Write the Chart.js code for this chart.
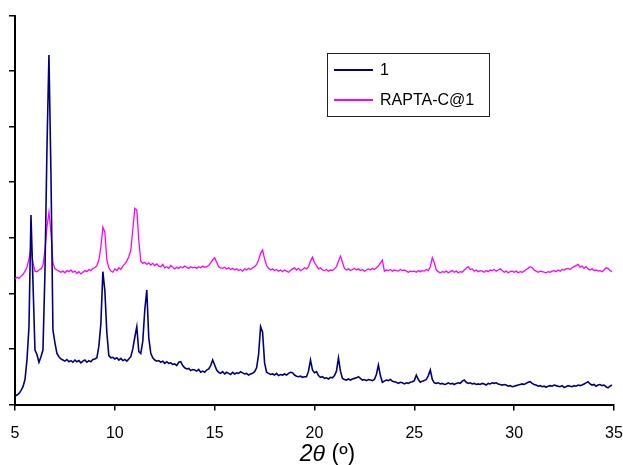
<!DOCTYPE html>
<html>
<head>
<meta charset="utf-8">
<script src="https://cdn.jsdelivr.net/npm/chart.js@4.4.1/dist/chart.umd.min.js"></script>
<style>
html,body{margin:0;padding:0;background:#ffffff;}
#wrap{width:623px;height:465px;position:relative;}
</style>
</head>
<body>
<div id="wrap"><canvas id="c" width="623" height="465"></canvas></div>
<script>
// ---- data (2θ grid: start 5.0°, step 0.1°) ----
const seriesNames = ['1', 'RAPTA-C@1'];
const seriesColors = ['#000080', '#FF00FF'];
const thetaStart = 5.0;
const thetaStep = 0.1;
const xTickValues = [5, 10, 15, 20, 25, 30, 35];
const xTitle = '2θ (º)';

// series "1"
const intensity1 = [
0.15,0.17,0.20,0.25,0.32,0.45,0.80,1.40,3.41,2.20,
0.98,0.90,0.76,0.86,0.98,2.37,4.60,6.29,4.17,1.34,
1.11,0.92,0.86,0.82,0.80,0.78,0.81,0.77,0.79,0.76,
0.80,0.77,0.79,0.75,0.78,0.80,0.76,0.79,0.77,0.81,
0.82,0.84,1.05,1.45,2.39,2.05,1.29,0.88,0.84,0.85,
0.82,0.84,0.80,0.83,0.79,0.81,0.78,0.82,0.86,1.00,
1.21,1.40,0.95,0.92,1.14,1.70,2.06,1.20,0.92,0.84,
0.80,0.78,0.79,0.76,0.78,0.74,0.77,0.74,0.75,0.72,
0.73,0.70,0.76,0.77,0.70,0.66,0.64,0.65,0.61,0.63,
0.62,0.60,0.63,0.58,0.60,0.58,0.62,0.64,0.70,0.80,
0.71,0.62,0.58,0.56,0.59,0.55,0.58,0.56,0.54,0.58,
0.55,0.57,0.56,0.59,0.57,0.55,0.56,0.53,0.55,0.56,
0.59,0.66,0.90,1.40,1.30,0.75,0.58,0.56,0.54,0.55,
0.53,0.56,0.52,0.54,0.53,0.55,0.53,0.56,0.58,0.57,
0.53,0.51,0.50,0.51,0.49,0.50,0.50,0.60,0.80,0.62,
0.57,0.59,0.52,0.49,0.50,0.47,0.48,0.46,0.49,0.48,
0.52,0.60,0.84,0.60,0.47,0.45,0.44,0.46,0.44,0.46,
0.47,0.48,0.50,0.47,0.44,0.45,0.43,0.45,0.44,0.43,
0.45,0.54,0.71,0.52,0.40,0.42,0.44,0.43,0.45,0.42,
0.41,0.40,0.38,0.40,0.39,0.37,0.39,0.38,0.40,0.41,
0.43,0.53,0.45,0.40,0.42,0.43,0.45,0.52,0.62,0.45,
0.39,0.38,0.39,0.37,0.38,0.36,0.37,0.39,0.37,0.38,
0.36,0.38,0.39,0.38,0.42,0.44,0.40,0.38,0.39,0.37,
0.38,0.36,0.37,0.36,0.38,0.37,0.35,0.38,0.37,0.39,
0.38,0.39,0.37,0.36,0.35,0.36,0.35,0.33,0.34,0.32,
0.33,0.34,0.35,0.36,0.37,0.36,0.38,0.40,0.41,0.38,
0.36,0.35,0.33,0.34,0.32,0.33,0.31,0.33,0.34,0.33,
0.35,0.34,0.33,0.32,0.34,0.31,0.32,0.34,0.33,0.32,
0.34,0.33,0.35,0.34,0.35,0.37,0.39,0.41,0.37,0.35,
0.36,0.33,0.35,0.36,0.34,0.35,0.32,0.30,0.33,0.35
];

// series "RAPTA-C@1"
const intensityRapta = [
2.26,2.29,2.27,2.31,2.34,2.40,2.47,2.62,2.82,2.55,
2.40,2.39,2.42,2.44,2.50,2.78,3.19,3.46,3.10,2.55,
2.44,2.42,2.40,2.38,2.40,2.37,2.41,2.39,2.42,2.38,
2.40,2.36,2.39,2.35,2.38,2.41,2.39,2.43,2.41,2.45,
2.46,2.50,2.60,2.83,3.19,3.10,2.60,2.46,2.40,2.38,
2.44,2.41,2.46,2.43,2.49,2.53,2.58,2.66,2.78,3.15,
3.53,3.50,2.95,2.58,2.54,2.56,2.52,2.55,2.51,2.54,
2.50,2.53,2.49,2.48,2.52,2.46,2.48,2.45,2.50,2.47,
2.44,2.47,2.45,2.48,2.46,2.49,2.47,2.45,2.48,2.46,
2.47,2.45,2.48,2.46,2.49,2.47,2.48,2.50,2.55,2.60,
2.64,2.56,2.48,2.46,2.45,2.47,2.44,2.46,2.43,2.45,
2.42,2.44,2.41,2.43,2.40,2.44,2.42,2.45,2.43,2.46,
2.48,2.52,2.60,2.72,2.78,2.62,2.50,2.45,2.42,2.44,
2.41,2.43,2.40,2.42,2.39,2.42,2.40,2.38,2.41,2.44,
2.46,2.42,2.45,2.41,2.43,2.46,2.44,2.48,2.58,2.65,
2.55,2.50,2.44,2.46,2.42,2.41,2.43,2.40,2.42,2.41,
2.44,2.48,2.58,2.67,2.56,2.45,2.42,2.44,2.41,2.43,
2.45,2.42,2.44,2.41,2.43,2.40,2.42,2.44,2.42,2.45,
2.43,2.46,2.49,2.55,2.60,2.40,2.42,2.41,2.43,2.40,
2.42,2.41,2.40,2.43,2.41,2.42,2.40,2.38,2.40,2.39,
2.40,2.38,2.41,2.39,2.41,2.40,2.43,2.41,2.48,2.64,
2.55,2.42,2.39,2.37,2.39,2.38,2.40,2.37,2.39,2.41,
2.38,2.40,2.37,2.39,2.38,2.42,2.45,2.48,2.43,2.44,
2.40,2.42,2.39,2.41,2.40,2.38,2.41,2.39,2.42,2.41,
2.43,2.40,2.42,2.44,2.41,2.38,2.40,2.37,2.39,2.40,
2.38,2.40,2.37,2.39,2.38,2.40,2.43,2.45,2.48,2.46,
2.42,2.40,2.38,2.40,2.39,2.38,2.37,2.39,2.38,2.40,
2.41,2.39,2.42,2.40,2.43,2.42,2.44,2.45,2.43,2.46,
2.48,2.50,2.52,2.47,2.49,2.45,2.48,2.44,2.42,2.44,
2.41,2.42,2.40,2.41,2.39,2.42,2.46,2.45,2.41,2.39
];

function toPoints(values) {
  return values.map((v, i) => ({ x: Math.round((thetaStart + i * thetaStep) * 10) / 10, y: v }));
}

const FONT = '"Liberation Sans", Arial, sans-serif';

const boxLegend = {
  id: 'boxLegend',
  afterDraw(chart) {
    const ctx = chart.ctx;
    ctx.save();
    const x0 = 327.5, y0 = 53.5, w = 162, h = 63;
    ctx.fillStyle = '#ffffff';
    ctx.fillRect(x0, y0, w, h);
    ctx.strokeStyle = '#222222';
    ctx.lineWidth = 1;
    ctx.strokeRect(x0, y0, w, h);
    chart.data.datasets.forEach((ds, i) => {
      const y = 70 + i * 30;
      ctx.strokeStyle = ds.borderColor;
      ctx.lineWidth = 2;
      ctx.beginPath();
      ctx.moveTo(334, y);
      ctx.lineTo(373, y);
      ctx.stroke();
      ctx.fillStyle = '#000000';
      ctx.font = '16px ' + FONT;
      ctx.textBaseline = 'middle';
      ctx.textAlign = 'left';
      ctx.fillText(ds.label, 380, y + 1);
    });
    ctx.restore();
  }
};

const axisTitle = {
  id: 'axisTitle',
  afterDraw(chart) {
    const ctx = chart.ctx;
    const area = chart.chartArea;
    ctx.save();
    ctx.fillStyle = '#000000';
    ctx.textBaseline = 'alphabetic';
    ctx.textAlign = 'left';
    const italicPart = xTitle.slice(0, 2);
    const restPart = xTitle.slice(2);
    ctx.font = 'italic 23px ' + FONT;
    const w1 = ctx.measureText(italicPart).width;
    ctx.font = '23px ' + FONT;
    const w2 = ctx.measureText(restPart).width;
    const cx = (area.left + area.right) / 2 + 13;
    let x = cx - (w1 + w2) / 2;
    const yb = 461;
    ctx.font = 'italic 23px ' + FONT;
    ctx.fillText(italicPart, x, yb);
    ctx.font = '23px ' + FONT;
    ctx.fillText(restPart, x + w1, yb);
    ctx.restore();
  }
};

new Chart(document.getElementById('c'), {
  type: 'line',
  data: {
    datasets: [
      { label: seriesNames[0], data: toPoints(intensity1), borderColor: seriesColors[0], borderWidth: 1.6, pointRadius: 0, tension: 0, fill: false },
      { label: seriesNames[1], data: toPoints(intensityRapta), borderColor: seriesColors[1], borderWidth: 1.3, pointRadius: 0, tension: 0, fill: false }
    ]
  },
  options: {
    responsive: false,
    animation: false,
    devicePixelRatio: 1,
    layout: { padding: { left: 0, right: 9, top: 15.5, bottom: 0 } },
    plugins: { legend: { display: false }, tooltip: { enabled: false } },
    scales: {
      x: {
        type: 'linear',
        min: 5, max: 35,
        afterBuildTicks(scale) { scale.ticks = xTickValues.map(v => ({ value: v })); },
        afterFit(scale) { scale.height = 60.5; scale.paddingLeft = 0; scale.paddingRight = 0; },
        grid: { drawOnChartArea: false, drawTicks: true, tickLength: 6, color: '#000000', lineWidth: 1.5 },
        border: { display: true, color: '#000000', width: 2 },
        ticks: { color: '#000000', font: { family: FONT, size: 16 }, padding: 13, maxRotation: 0, autoSkip: false },
        title: { display: false }
      },
      y: {
        min: 0, max: 7,
        ticks: { display: false, stepSize: 1 },
        afterFit(scale) { scale.width = 15; scale.paddingTop = 0; scale.paddingBottom = 0; },
        grid: { drawOnChartArea: false, drawTicks: true, tickLength: 6, color: '#000000', lineWidth: 1.5 },
        border: { display: true, color: '#000000', width: 2 }
      }
    }
  },
  plugins: [boxLegend, axisTitle]
});
</script>
</body>
</html>
